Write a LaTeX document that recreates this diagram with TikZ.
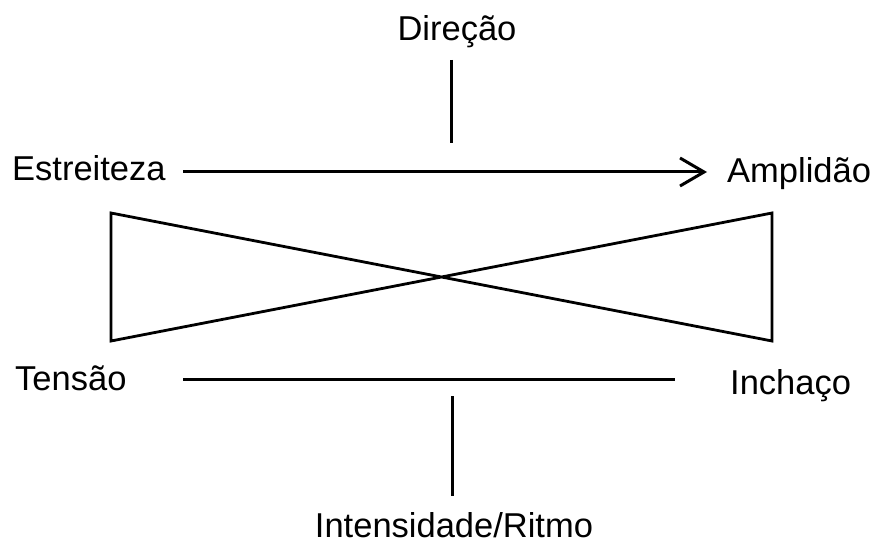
\documentclass[tikz,border=0pt]{standalone}
\usepackage{fontspec}
\setmainfont{Liberation Sans}
\usetikzlibrary{arrows.meta}
\begin{document}
\begin{tikzpicture}[x=1pt,y=-1pt,
  lbl/.style={inner sep=0pt,font=\fontsize{34.5}{40}\selectfont},
  ln/.style={line width=3pt,black},
  fr/.style={line width=2.8pt,black,line join=miter}]
\useasboundingbox (0,0) rectangle (877,545);
\fill[white] (0,0) rectangle (877,545);
% labels
\node[lbl,anchor=base] (dir) at (457,41) {Direção};
\node[lbl,anchor=base west] (est) at (12,181) {Estreiteza};
\node[lbl,anchor=base west] (amp) at (727,183) {Amplidão};
\node[lbl,anchor=base west] (ten) at (15,390) {Tensão};
\node[lbl,anchor=base west] (inc) at (730,394) {Inchaço};
\node[lbl,anchor=base] (int) at (454,537) {Intensidade/Ritmo};
% line end points
\coordinate (dt) at (451,60);
\coordinate (db) at (451,143);
\coordinate (as) at (183,172);
\coordinate (ae) at (707,172);
\coordinate (hs) at (183,379);
\coordinate (he) at (675,379);
\coordinate (it) at (452,396);
\coordinate (ib) at (452,496);
\coordinate (tl) at (111,213);
\coordinate (bl) at (111,341);
\coordinate (tr) at (772,213);
\coordinate (br) at (772,341);
% lines
\draw[ln] (dt) -- (db);
\draw[ln,-{Straight Barb[length=24pt,width=28pt,line width=3pt]}] (as) -- (ae);
\draw[ln] (hs) -- (he);
\draw[ln] (it) -- (ib);
% bow tie
\draw[fr] (tl) -- (br) -- (tr) -- (bl) -- cycle;
\end{tikzpicture}
\end{document}
